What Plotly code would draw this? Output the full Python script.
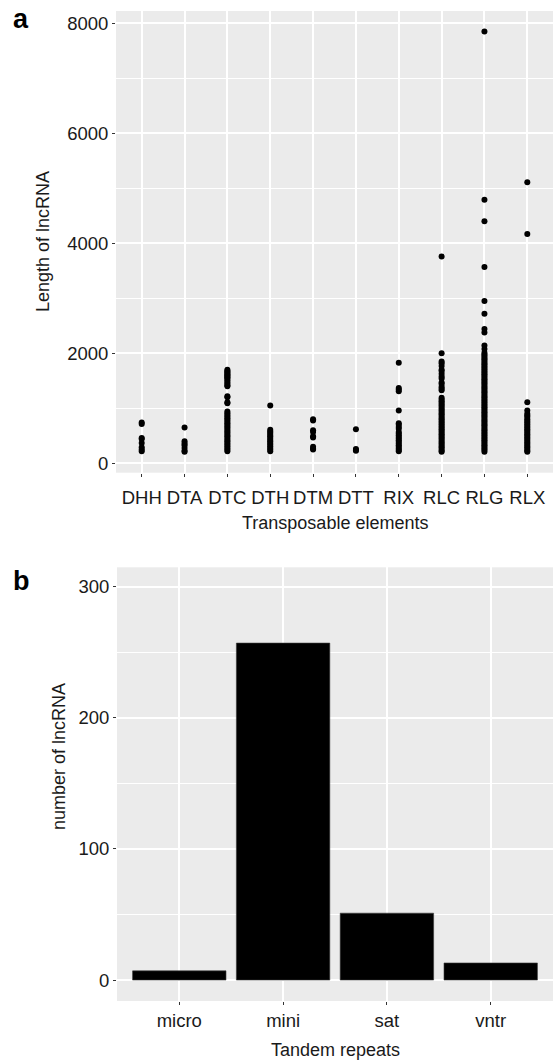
import plotly.graph_objects as go

# ---------------- Data ----------------
te_categories = ["DHH", "DTA", "DTC", "DTH", "DTM", "DTT", "RIX", "RLC", "RLG", "RLX"]

DHH = [740, 715, 460, 440, 370, 290, 250, 220]
DTA = [650, 400, 360, 330, 280, 230, 210]
DTC = [1700, 1680, 1660, 1640, 1620, 1600, 1580, 1560, 1540, 1510, 1480, 1450, 1420, 1400,
       1220, 1200, 1110, 1090, 940, 910, 880, 850, 820, 790, 760, 730, 700, 670, 640, 610,
       580, 550, 520, 490, 460, 430, 400, 370, 340, 310, 280, 250, 220]
DTH = [1050, 610, 580, 550, 520, 490, 460, 430, 400, 370, 340, 310, 280, 250, 220]
DTM = [800, 780, 600, 570, 490, 470, 300, 270, 250]
DTT = [620, 260, 240, 230]
RIX = [1830, 1370, 1340, 1310, 960, 730, 700, 660, 630, 570, 540, 510, 480, 450, 420, 390,
       360, 330, 300, 270, 240, 220]
RLC = [3760, 2000, 1850, 1820, 1770, 1700, 1680, 1630, 1580, 1540, 1470, 1440, 1390, 1360,
       1330, 1190, 1160, 1130, 1100, 1070, 1040, 1010, 980, 950, 920, 890, 860, 830, 800,
       770, 740, 710, 680, 650, 620, 590, 560, 530, 500, 470, 440, 410, 380, 350, 320, 290,
       260, 230, 210]
RLG = [7850, 4790, 4400, 3570, 2950, 2720, 2440, 2380, 2140, 2080, 2010, 1980, 1950, 1920,
       1890, 1860, 1830, 1800, 1770, 1740, 1710, 1680, 1650, 1620, 1590, 1560, 1530, 1500,
       1470, 1440, 1410, 1380, 1350, 1320, 1290, 1260, 1230, 1200, 1170, 1140, 1110, 1080,
       1050, 1020, 990, 960, 930, 900, 870, 840, 810, 780, 750, 720, 690, 660, 630, 600,
       570, 540, 510, 480, 450, 420, 390, 360, 330, 300, 270, 240, 210]
RLX = [5110, 4170, 1110, 960, 900, 870, 840, 800, 770, 740, 710, 680, 650, 620, 590, 560,
       530, 500, 470, 440, 410, 380, 350, 320, 290, 260, 230, 210]

te_lengths = [DHH, DTA, DTC, DTH, DTM, DTT, RIX, RLC, RLG, RLX]

tr_categories = ["micro", "mini", "sat", "vntr"]
tr_counts = [7, 257, 51, 13]

a_yticks = [0, 2000, 4000, 6000, 8000]
b_yticks = [0, 100, 200, 300]

# ---------------- Figure ----------------
W, H = 553, 1061
FONT = "Liberation Sans, Arial, sans-serif"
TXT = "#1a1a1a"

fig = go.Figure()

xs, ys = [], []
for cat, vals in zip(te_categories, te_lengths):
    xs += [cat] * len(vals)
    ys += vals

fig.add_trace(go.Scatter(
    x=xs, y=ys, mode="markers", xaxis="x", yaxis="y",
    marker=dict(color="black", size=6, line=dict(width=0)),
    showlegend=False, hoverinfo="x+y",
))

fig.add_trace(go.Bar(
    x=tr_categories, y=tr_counts, xaxis="x2", yaxis="y2", width=0.9,
    marker=dict(color="black", line=dict(color="#3a3a3a", width=0.6)),
    showlegend=False,
))

def px_y(p):
    return 1 - p / H

common_axis = dict(
    showline=False, zeroline=False, ticks="outside", ticklen=3, tickwidth=1.3,
    tickcolor="#333333", gridcolor="white", gridwidth=2,
    tickfont=dict(family=FONT, size=18.5, color=TXT),
)
minor_grid = dict(showgrid=True, gridcolor="white", gridwidth=1, ticks="")

fig.update_layout(
    width=W, height=H,
    margin=dict(l=0, r=0, t=0, b=0),
    paper_bgcolor="white",
    plot_bgcolor="#EBEBEB",
    font=dict(family=FONT, color=TXT),
    xaxis=dict(
        domain=[116 / W, 1], anchor="y", type="category",
        categoryorder="array", categoryarray=te_categories,
        range=[-0.6, 9.6], showgrid=True, ticklabelstandoff=5, **common_axis,
    ),
    yaxis=dict(
        domain=[px_y(472.7), px_y(11)], anchor="x",
        range=[-171, 8224], tickvals=a_yticks, showgrid=True,
        minor=dict(dtick=1000, tick0=1000, **minor_grid),
        **common_axis,
    ),
    xaxis2=dict(
        domain=[117 / W, 1], anchor="y2", type="category",
        categoryorder="array", categoryarray=tr_categories,
        range=[-0.6, 3.6], showgrid=True, **common_axis,
    ),
    yaxis2=dict(
        domain=[px_y(1001), px_y(567.3)], anchor="x2",
        range=[-16, 314.8], tickvals=b_yticks, showgrid=True,
        minor=dict(dtick=100, tick0=50, **minor_grid),
        **common_axis,
    ),
    bargap=0.1,
)

ann = []
def add_text(text, x, y, size, rot=0, bold=False):
    ann.append(dict(
        text=("<b>%s</b>" % text) if bold else text,
        x=x / W, y=px_y(y), xref="paper", yref="paper",
        xanchor="center", yanchor="middle", showarrow=False, textangle=rot,
        font=dict(family=FONT, size=size, color="black" if bold else TXT),
    ))

add_text("a", 21, 19, 27, bold=True)
add_text("b", 21, 581, 27, bold=True)
add_text("Length of lncRNA", 43, 242, 18, rot=-90)
add_text("Transposable elements", 335, 523, 18)
add_text("number of lncRNA", 59, 757, 18, rot=-90)
add_text("Tandem repeats", 335, 1050, 18)

fig.update_layout(annotations=ann)

fig.write_html("out.html")
